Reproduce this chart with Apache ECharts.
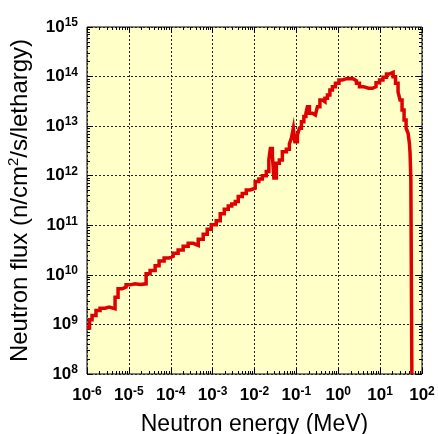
<!DOCTYPE html>
<html lang="en">
<head>
    <meta charset="UTF-8">
    <title>Neutron flux</title>
    <script src="https://cdn.jsdelivr.net/npm/echarts@6/dist/echarts.min.js"></script>
    <style>
        html, body { margin: 0; padding: 0; background: #fff; }
        #chart { width: 438px; height: 434px; }
    </style>
</head>
<body>
<div id="chart"></div>
<script>
    // bin edges (MeV) and flux of each bin (n/cm2/s/lethargy)
    const energy = [
        1.0e-6, 1.15e-6, 1.32e-6, 1.64e-6, 2.05e-6, 2.70e-6, 3.36e-6, 4.68e-6, 5.52e-6, 6.87e-6,
        8.57e-6, 1.07e-5, 1.41e-5, 1.85e-5, 2.58e-5, 3.21e-5, 4.24e-5, 5.27e-5, 6.95e-5, 9.16e-5,
        1.14e-4, 1.50e-4, 1.98e-4, 2.61e-4, 3.44e-4, 4.53e-4, 5.96e-4, 7.43e-4, 9.27e-4, 1.22e-3,
        1.52e-3, 1.90e-3, 2.36e-3, 2.86e-3, 3.48e-3, 4.09e-3, 5.10e-3, 6.37e-3, 7.94e-3, 1.04e-2,
        1.27e-2, 1.54e-2, 1.91e-2, 2.20e-2, 2.39e-2, 2.67e-2, 2.90e-2, 3.33e-2, 3.92e-2, 4.62e-2,
        5.77e-2, 6.81e-2, 7.59e-2, 8.47e-2, 9.20e-2, 0.106, 0.118, 0.132, 0.151, 0.169,
        0.183, 0.205, 0.242, 0.285, 0.318, 0.365, 0.419, 0.481, 0.552, 0.632,
        0.726, 0.857, 1.04, 1.26, 1.57, 1.96, 2.31, 2.72, 3.21, 4.01,
        5.27, 6.58, 7.98, 9.68, 11.7, 14.2, 16.8, 20.4, 23.3, 26.8,
        29.9, 33.4, 37.3, 41.7, 46.5, 50.0, 51.9, 54.2, 57.3
    ];
    const flux = [
        8.5e8, 1.24e9, 1.51e9, 1.91e9, 2.13e9, 2.23e9, 2.07e9, 3.55e9, 5.22e9, 5.65e9,
        6.28e9, 6.59e9, 6.37e9, 6.59e9, 1.05e10, 1.23e10, 1.52e10, 1.91e10, 2.20e10, 2.36e10,
        2.74e10, 3.19e10, 3.76e10, 4.32e10, 3.94e10, 5.25e10, 6.62e10, 8.34e10, 1.02e11, 1.24e11,
        1.70e11, 2.11e11, 2.46e11, 2.70e11, 3.01e11, 3.79e11, 4.40e11, 5.17e11, 5.60e11, 7.60e11,
        8.61e11, 1.00e12, 1.21e12, 2.08e12, 3.55e12, 2.62e12, 9.03e11, 1.79e12, 2.08e12, 3.06e12,
        3.42e12, 4.38e12, 5.70e12, 9.08e12, 4.87e12, 6.65e12, 9.08e12, 1.23e13, 1.56e13, 1.82e13,
        2.47e13, 1.82e13, 1.68e13, 1.56e13, 2.47e13, 3.37e13, 3.12e13, 3.65e13, 4.26e13, 5.37e13,
        6.25e13, 7.33e13, 8.54e13, 9.08e13, 9.10e13, 8.95e13, 8.26e13, 7.33e13, 6.25e13, 5.81e13,
        5.81e13, 6.25e13, 7.54e13, 8.54e13, 9.68e13, 1.13e14, 1.21e14, 9.95e13, 7.33e13, 4.90e13,
        3.37e13, 2.12e13, 1.33e13, 9.08e12, 7.19e12, 4.52e12, 2.84e12, 8.22e11, 1.0e8
    ];
    const xDecades = [1e-6, 1e-5, 1e-4, 1e-3, 1e-2, 1e-1, 1e0, 1e1, 1e2];
    const yDecades = [1e8, 1e9, 1e10, 1e11, 1e12, 1e13, 1e14, 1e15];

    function minorTicks(decades) {
        const out = [];
        for (let i = 0; i < decades.length - 1; i++) {
            for (let m = 2; m <= 9; m++) out.push(m * decades[i]);
        }
        return out;
    }
    // keep the end labels inside the axis extent (float rounding)
    function inside(vals) {
        return vals.map((v, i) => i === 0 ? v * (1 + 1e-9) : (i === vals.length - 1 ? v * (1 - 1e-9) : v));
    }
    const xMinor = minorTicks(xDecades);
    const yMinor = minorTicks(yDecades);

    const font = "'Liberation Sans', Arial, sans-serif";
    const powRich = {
        b: { fontFamily: font, fontWeight: 'bold', fontSize: 17, lineHeight: 17, color: '#000' },
        s: { fontFamily: font, fontWeight: 'bold', fontSize: 12, lineHeight: 12, color: '#000', padding: [0, 0, 8, 0] }
    };
    function powLabel(v) {
        return '{b|10}{s|' + Math.round(Math.log10(v)) + '}';
    }

    function tickAxis(min, max, pos, values, len) {
        return {
            type: 'log', logBase: 10, min: min, max: max, position: pos,
            axisLine: { show: false },
            axisTick: { show: true, inside: true, length: len, customValues: values, lineStyle: { color: '#000', width: 1 } },
            axisLabel: { show: false },
            splitLine: { show: false }
        };
    }

    const myChart = echarts.init(document.getElementById('chart'), null, { renderer: 'canvas' });

    const option = {
        animation: false,
        backgroundColor: '#ffffff',
        grid: {
            left: 87, top: 27, right: 16, bottom: 60,
            outerBoundsMode: 'none', containLabel: false,
            show: true, backgroundColor: '#ffffc8', borderColor: '#000', borderWidth: 1
        },
        xAxis: [
            {
                type: 'log', logBase: 10, min: 1e-6, max: 1e2, position: 'bottom',
                axisLine: { show: false },
                axisTick: { show: true, inside: true, length: 6, customValues: inside(xDecades), lineStyle: { color: '#000' } },
                axisLabel: { customValues: inside(xDecades), formatter: powLabel, rich: powRich, margin: 13, showMinLabel: true, showMaxLabel: true, hideOverlap: false },
                splitLine: { show: true, lineStyle: { color: '#222', type: [2, 2], width: 1 } },
                name: 'Neutron energy (MeV)', nameLocation: 'middle', nameGap: 39,
                nameTextStyle: { fontFamily: font, fontSize: 23, color: '#000' }
            },
            tickAxis(1e-6, 1e2, 'top', xDecades, 6),
            tickAxis(1e-6, 1e2, 'bottom', xMinor, 3),
            tickAxis(1e-6, 1e2, 'top', xMinor, 3)
        ],
        yAxis: [
            {
                type: 'log', logBase: 10, min: 1e8, max: 1e15, position: 'left',
                axisLine: { show: false },
                axisTick: { show: true, inside: true, length: 6, customValues: inside(yDecades), lineStyle: { color: '#000' } },
                axisLabel: { customValues: inside(yDecades), formatter: powLabel, rich: powRich, margin: 9, showMinLabel: true, showMaxLabel: true, hideOverlap: false },
                splitLine: { show: true, lineStyle: { color: '#222', type: [2, 2], width: 1 } },
                name: '{t|Neutron flux (n/cm}{s|2}{t|/s/lethargy)}', nameLocation: 'middle', nameGap: 46, nameRotate: 90,
                nameTextStyle: {
                    rich: {
                        t: { fontFamily: font, fontSize: 24, lineHeight: 24, color: '#000' },
                        s: { fontFamily: font, fontSize: 15, lineHeight: 15, color: '#000', padding: [0, 0, 13, 0] }
                    }
                }
            },
            tickAxis(1e8, 1e15, 'right', yDecades, 6),
            tickAxis(1e8, 1e15, 'left', yMinor, 3),
            tickAxis(1e8, 1e15, 'right', yMinor, 3)
        ],
        series: [
            {
                type: 'line',
                step: 'end',
                xAxisIndex: 0,
                yAxisIndex: 0,
                showSymbol: false,
                data: energy.map((e, i) => [e, flux[i]]),
                lineStyle: { color: '#e00000', width: 3.5, join: 'miter', cap: 'butt' }
            }
        ]
    };
    myChart.setOption(option);
</script>
</body>
</html>
